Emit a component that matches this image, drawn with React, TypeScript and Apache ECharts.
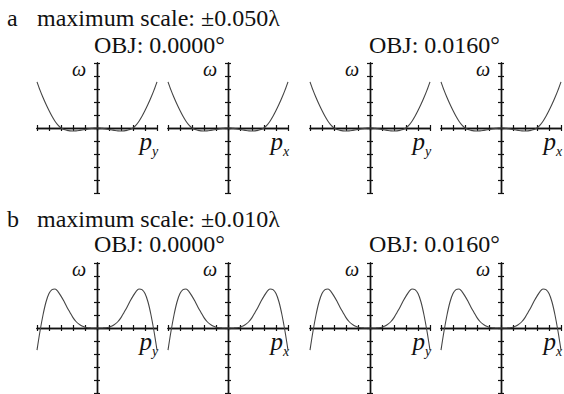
import React, { useEffect, useRef } from "react";
import * as echarts from "echarts";

// normalized pupil coordinate
const P_VALUES = [
  -1, -0.95, -0.9, -0.85, -0.8, -0.75, -0.7, -0.65, -0.6, -0.55, -0.5, -0.45, -0.4, -0.35, -0.3, -0.25, -0.2, -0.15, -0.1, -0.05,
  0, 0.05, 0.1, 0.15, 0.2, 0.25, 0.3, 0.35, 0.4, 0.45, 0.5, 0.55, 0.6, 0.65, 0.7, 0.75, 0.8, 0.85, 0.9, 0.95, 1,
];

// OPD (waves) read from row a (max scale ±0.050λ)
const W_ROW_A = [
  0.0355, 0.0291, 0.0234, 0.0182, 0.0134, 0.009, 0.0052, 0.0022, 0, -0.0012, -0.0018, -0.0022, -0.0023, -0.0022, -0.0019, -0.0015, -0.0011, -0.0007, -0.0003, -0.0001,
  0, -0.0001, -0.0003, -0.0007, -0.0011, -0.0015, -0.0019, -0.0022, -0.0023, -0.0022, -0.0018, -0.0012, 0, 0.0022, 0.0052, 0.009, 0.0134, 0.0182, 0.0234, 0.0291, 0.0355,
];

// OPD (waves) read from row b (max scale ±0.010λ)
const W_ROW_B = [
  -0.0034, -0.0005, 0.002, 0.004, 0.0053, 0.0059, 0.006, 0.0056, 0.0049, 0.0041, 0.0032, 0.0024, 0.0016, 0.001, 0.0006, 0.0003, 0.00013, 0.00004, 0.00001, 0,
  0, 0, 0.00001, 0.00004, 0.00013, 0.0003, 0.0006, 0.001, 0.0016, 0.0024, 0.0032, 0.0041, 0.0049, 0.0056, 0.006, 0.0059, 0.0053, 0.004, 0.002, -0.0005, -0.0034,
];

const ROW_DATA = [W_ROW_A, W_ROW_B];
const ROW_RANGES = [0.05, 0.01];
const ROW_INTERVALS = [0.01, 0.002];
const ROW_LETTERS = ["a", "b"];
const ROW_SCALES = ["maximum scale: ±0.050λ", "maximum scale: ±0.010λ"];
const FIELD_LABELS = ["OBJ: 0.0000°", "OBJ: 0.0160°"];
const PUPIL_SUBS = ["y", "x", "y", "x"];
const PUPIL_MIN = -1;
const PUPIL_MAX = 1;
const PUPIL_INTERVAL = 0.2;

const CENTERS = [97, 228, 370, 501];
const HALF_W = 60;
const ROW_TOPS = [63, 263];
const PLOT_H = 130;
const SERIF = "Liberation Serif";
const AXIS_COLOR = "#111";

function txt(text: string, x: number, y: number, size: number, opts: any = {}) {
  return {
    type: "text",
    x,
    y,
    style: {
      text,
      fontSize: size,
      fontFamily: SERIF,
      fontStyle: opts.italic ? "italic" : "normal",
      fill: "#111",
      align: opts.align || "left",
      verticalAlign: "middle",
    },
  };
}

export default function App() {
  const ref = useRef<HTMLDivElement>(null);

  useEffect(() => {
    if (!ref.current) return;
    const chart = echarts.init(ref.current, undefined, { renderer: "svg" });

    const grids: any[] = [];
    const xAxes: any[] = [];
    const yAxes: any[] = [];
    const series: any[] = [];
    const graphics: any[] = [];

    const lineStyle = { color: AXIS_COLOR, width: 1.4 };
    const tickStyle = { color: AXIS_COLOR, width: 1.2 };

    ROW_DATA.forEach((w, r) => {
      const top = ROW_TOPS[r];
      const axisY = top + PLOT_H / 2;
      CENTERS.forEach((cx, c) => {
        const g = r * 4 + c;
        grids.push({ left: cx - HALF_W, top, width: HALF_W * 2, height: PLOT_H });
        ["bottom", "top"].forEach((pos) => {
          xAxes.push({
            gridIndex: g,
            type: "value",
            position: pos,
            min: PUPIL_MIN,
            max: PUPIL_MAX,
            interval: PUPIL_INTERVAL,
            axisLine: { show: true, onZero: true, lineStyle },
            axisTick: { show: true, inside: false, length: 3, lineStyle: tickStyle },
            axisLabel: { show: false },
            splitLine: { show: false },
          });
        });
        ["left", "right"].forEach((pos) => {
          yAxes.push({
            gridIndex: g,
            type: "value",
            position: pos,
            min: -ROW_RANGES[r],
            max: ROW_RANGES[r],
            interval: ROW_INTERVALS[r],
            axisLine: { show: true, onZero: true, lineStyle },
            axisTick: { show: true, inside: false, length: 3, lineStyle: tickStyle },
            axisLabel: { show: false },
            splitLine: { show: false },
          });
        });
        series.push({
          type: "line",
          xAxisIndex: 2 * g,
          yAxisIndex: 2 * g,
          data: P_VALUES.map((p, i) => [p, w[i]]),
          showSymbol: false,
          smooth: 0.3,
          lineStyle: { color: "#444", width: 1.1 },
          silent: true,
        });

        graphics.push(txt("ω", cx - 11, top + 6, 20, { italic: true, align: "right" }));
        graphics.push(txt("p", cx + HALF_W - 5, axisY + 13, 25, { italic: true, align: "right" }));
        graphics.push(txt(PUPIL_SUBS[c], cx + HALF_W - 5, axisY + 23, 14, { italic: true }));
      });

      const titleY = [18, 219][r];
      const objY = [45, 244][r];
      graphics.push(txt(ROW_LETTERS[r], 7, titleY, 24));
      graphics.push(txt(ROW_SCALES[r], 37, titleY, 24));
      graphics.push(txt(FIELD_LABELS[0], 94, objY, 24));
      graphics.push(txt(FIELD_LABELS[1], 369, objY, 24));
    });

    chart.setOption({
      animation: false,
      backgroundColor: "#fff",
      grid: grids,
      xAxis: xAxes,
      yAxis: yAxes,
      series,
      graphic: { elements: graphics },
    });

    return () => chart.dispose();
  }, []);

  return (
    <div
      ref={ref}
      style={{ position: "fixed", left: 0, top: 0, width: 564, height: 394, background: "#fff" }}
    />
  );
}
